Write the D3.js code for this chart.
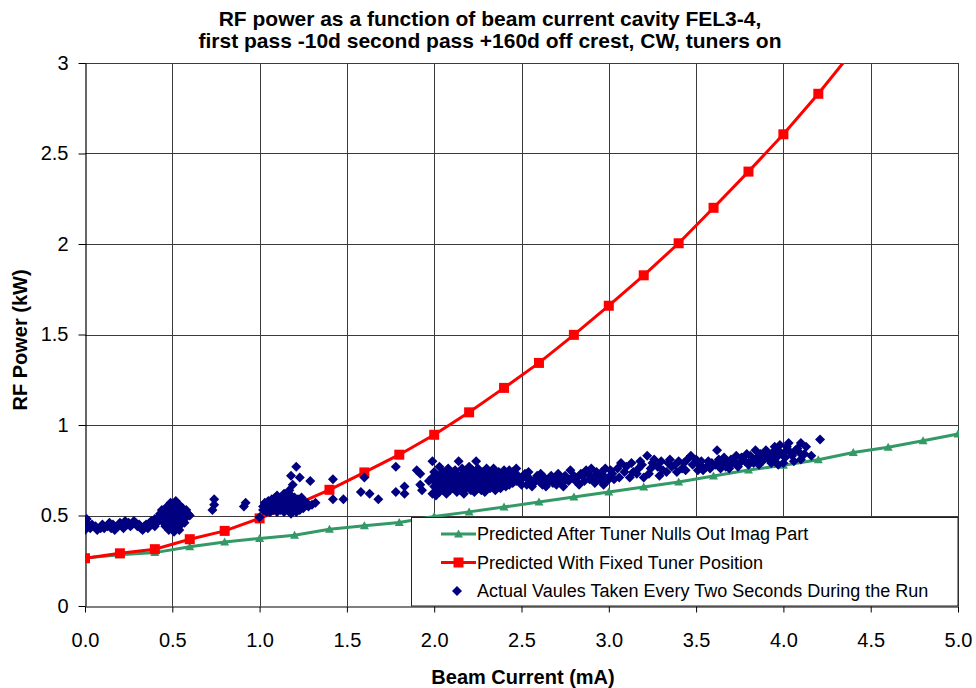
<!DOCTYPE html>
<html>
<head>
<meta charset="utf-8">
<script src="https://cdn.jsdelivr.net/npm/d3@7"></script>
<style>
  body { margin: 0; background: #fff; }
  text { font-family: Arial, "Liberation Sans", sans-serif; }
</style>
</head>
<body>
<div id="root"></div>
<script>
// beam current (mA) for the two predicted curves
const beamCurrent = [0.0, 0.2, 0.4, 0.6, 0.8, 1.0, 1.2, 1.4, 1.6, 1.8, 2.0, 2.2, 2.4,
    2.6, 2.8, 3.0, 3.2, 3.4, 3.6, 3.8, 4.0, 4.2, 4.4, 4.6, 4.8, 5.0];
// Predicted After Tuner Nulls Out Imag Part (kW)
const powerTunerNulled = [0.265, 0.283, 0.295, 0.327, 0.354, 0.373, 0.391, 0.424, 0.443,
    0.461, 0.495, 0.520, 0.547, 0.575, 0.602, 0.630, 0.657, 0.685, 0.718, 0.751, 0.778,
    0.808, 0.848, 0.877, 0.913, 0.950];
// Predicted With Fixed Tuner Position (kW), runs off the top after 4.4 mA
const powerFixedTuner = [0.264, 0.291, 0.314, 0.369, 0.415, 0.484, 0.557, 0.642, 0.738,
    0.836, 0.946, 1.070, 1.205, 1.343, 1.498, 1.659, 1.827, 2.004, 2.200, 2.400, 2.606,
    2.830, 3.070];

// Actual values taken every two seconds: [mA, kW]
const actualValues = [
    [0.00, 0.43], [0.00, 0.45], [0.00, 0.47], [0.00, 0.44], [0.00, 0.42], [0.01, 0.46], [0.01, 0.48],
    [0.02, 0.44], [0.03, 0.43], [0.04, 0.45], [0.06, 0.44], [0.07, 0.42], [0.09, 0.43], [0.10, 0.45],
    [0.11, 0.43], [0.13, 0.44], [0.14, 0.46], [0.15, 0.43], [0.16, 0.45], [0.17, 0.42], [0.19, 0.44],
    [0.20, 0.46], [0.21, 0.45], [0.22, 0.43], [0.23, 0.47], [0.24, 0.45], [0.25, 0.46], [0.26, 0.44],
    [0.27, 0.45], [0.28, 0.47], [0.29, 0.46], [0.30, 0.44], [0.31, 0.45], [0.32, 0.43], [0.33, 0.42],
    [0.34, 0.44], [0.35, 0.45], [0.36, 0.43], [0.37, 0.46], [0.38, 0.47], [0.39, 0.45], [0.40, 0.48],
    [0.41, 0.46], [0.40, 0.44],
    [0.42, 0.49], [0.42, 0.47], [0.43, 0.51], [0.44, 0.48], [0.44, 0.53], [0.45, 0.46], [0.45, 0.50],
    [0.46, 0.44], [0.46, 0.52], [0.47, 0.55], [0.47, 0.48], [0.48, 0.42], [0.48, 0.50], [0.48, 0.54],
    [0.49, 0.46], [0.49, 0.57], [0.50, 0.44], [0.50, 0.49], [0.50, 0.52], [0.51, 0.41], [0.51, 0.55],
    [0.51, 0.47], [0.52, 0.58], [0.52, 0.50], [0.52, 0.43], [0.53, 0.53], [0.53, 0.46], [0.54, 0.56],
    [0.54, 0.49], [0.54, 0.42], [0.55, 0.52], [0.55, 0.45], [0.56, 0.54], [0.56, 0.48], [0.57, 0.51],
    [0.57, 0.46], [0.58, 0.53], [0.58, 0.49], [0.59, 0.51], [0.60, 0.50],
    [0.74, 0.59], [0.74, 0.56], [0.73, 0.53], [0.92, 0.57], [0.91, 0.55], [1.00, 0.49],
    [1.02, 0.53], [1.02, 0.55], [1.03, 0.57], [1.04, 0.52], [1.04, 0.55], [1.05, 0.58], [1.05, 0.54],
    [1.06, 0.56], [1.06, 0.52], [1.07, 0.59], [1.07, 0.55], [1.08, 0.53], [1.08, 0.57], [1.09, 0.60],
    [1.09, 0.55], [1.10, 0.52], [1.10, 0.57], [1.10, 0.61], [1.11, 0.54], [1.11, 0.58], [1.12, 0.56],
    [1.12, 0.60], [1.12, 0.53], [1.13, 0.58], [1.13, 0.55], [1.14, 0.62], [1.14, 0.52], [1.15, 0.57],
    [1.15, 0.54], [1.15, 0.60], [1.16, 0.56], [1.16, 0.59], [1.17, 0.53], [1.17, 0.64], [1.17, 0.57],
    [1.18, 0.55], [1.18, 0.61], [1.18, 0.51], [1.19, 0.58], [1.19, 0.67], [1.20, 0.54], [1.20, 0.60],
    [1.21, 0.57], [1.21, 0.52], [1.22, 0.59], [1.22, 0.55], [1.23, 0.57], [1.23, 0.53], [1.24, 0.60],
    [1.24, 0.56], [1.25, 0.54], [1.25, 0.58], [1.26, 0.56], [1.27, 0.57], [1.28, 0.55], [1.30, 0.56],
    [1.32, 0.57], [1.21, 0.77], [1.18, 0.72], [1.23, 0.71], [1.29, 0.69],
    [1.42, 0.70], [1.42, 0.59], [1.48, 0.59], [1.60, 0.71], [1.58, 0.63], [1.63, 0.62], [1.68, 0.59],
    [1.78, 0.77], [1.78, 0.63], [1.83, 0.66], [1.83, 0.62], [1.90, 0.75], [1.92, 0.73], [1.92, 0.67],
    [1.93, 0.64], [1.97, 0.69], [1.99, 0.80], [1.99, 0.71], [1.99, 0.62],
    [2.00, 0.66], [2.00, 0.70], [2.00, 0.74], [2.01, 0.61], [2.01, 0.68], [2.02, 0.72], [2.02, 0.65],
    [2.03, 0.77], [2.03, 0.69], [2.03, 0.63], [2.04, 0.71], [2.04, 0.67], [2.05, 0.74], [2.05, 0.64],
    [2.05, 0.69], [2.06, 0.70], [2.06, 0.66], [2.07, 0.73], [2.07, 0.62], [2.07, 0.68], [2.08, 0.76],
    [2.08, 0.70], [2.09, 0.66], [2.09, 0.72], [2.09, 0.64], [2.10, 0.69], [2.10, 0.74], [2.11, 0.71],
    [2.11, 0.65], [2.11, 0.67], [2.12, 0.75], [2.12, 0.68], [2.13, 0.63], [2.13, 0.70], [2.13, 0.73],
    [2.14, 0.80], [2.14, 0.66], [2.15, 0.69], [2.15, 0.72], [2.15, 0.64], [2.16, 0.76], [2.16, 0.67],
    [2.17, 0.62], [2.17, 0.70], [2.17, 0.73], [2.18, 0.68], [2.18, 0.65], [2.19, 0.74], [2.19, 0.71],
    [2.19, 0.66], [2.20, 0.77], [2.20, 0.69], [2.21, 0.64], [2.21, 0.72], [2.21, 0.67], [2.22, 0.70],
    [2.22, 0.75], [2.23, 0.66], [2.23, 0.63], [2.23, 0.73], [2.24, 0.80], [2.24, 0.68], [2.25, 0.71],
    [2.25, 0.65], [2.25, 0.76], [2.26, 0.69], [2.26, 0.73], [2.27, 0.64], [2.27, 0.67], [2.27, 0.71],
    [2.28, 0.74], [2.28, 0.70], [2.29, 0.66], [2.29, 0.72], [2.29, 0.63], [2.30, 0.69], [2.30, 0.76],
    [2.31, 0.71], [2.31, 0.67], [2.32, 0.74], [2.32, 0.65], [2.32, 0.70], [2.33, 0.68], [2.33, 0.72],
    [2.34, 0.76], [2.34, 0.66], [2.35, 0.70], [2.35, 0.73], [2.35, 0.64], [2.36, 0.67], [2.36, 0.71],
    [2.37, 0.74], [2.37, 0.69], [2.38, 0.65], [2.38, 0.72], [2.39, 0.70], [2.39, 0.67], [2.40, 0.75],
    [2.40, 0.68], [2.41, 0.71], [2.41, 0.66], [2.42, 0.73], [2.42, 0.69], [2.43, 0.67], [2.43, 0.75],
    [2.44, 0.70], [2.44, 0.72], [2.45, 0.68], [2.45, 0.74], [2.46, 0.71], [2.47, 0.69], [2.47, 0.76],
    [2.48, 0.72], [2.50, 0.70], [2.50, 0.67], [2.52, 0.73], [2.53, 0.67], [2.53, 0.71],
    [2.55, 0.70], [2.57, 0.68], [2.59, 0.72], [2.60, 0.69], [2.62, 0.67], [2.63, 0.71], [2.65, 0.68],
    [2.66, 0.70], [2.68, 0.68], [2.70, 0.67], [2.72, 0.70], [2.73, 0.68], [2.75, 0.72], [2.76, 0.70],
    [2.78, 0.75], [2.80, 0.72], [2.81, 0.69], [2.82, 0.71], [2.84, 0.73], [2.85, 0.72], [2.86, 0.69],
    [2.88, 0.73], [2.90, 0.76], [2.91, 0.71], [2.93, 0.74], [2.94, 0.72], [2.95, 0.70], [2.97, 0.72],
    [2.98, 0.76], [2.99, 0.69], [3.00, 0.71], [3.01, 0.75],
    [2.54, 0.74], [2.56, 0.66], [2.58, 0.70], [2.61, 0.73], [2.64, 0.66], [2.67, 0.72], [2.69, 0.70],
    [2.71, 0.73], [2.74, 0.66], [2.77, 0.69], [2.79, 0.71], [2.83, 0.67], [2.87, 0.75], [2.89, 0.70],
    [2.92, 0.68], [2.96, 0.74], [2.97, 0.67],
    [3.03, 0.70], [3.07, 0.79], [3.12, 0.71], [3.14, 0.74], [3.18, 0.80], [3.20, 0.71], [3.22, 0.83],
    [3.24, 0.76], [3.26, 0.81], [3.29, 0.72], [3.31, 0.75], [3.34, 0.79], [3.36, 0.77], [3.39, 0.74],
    [3.42, 0.76], [3.45, 0.81], [3.47, 0.83], [3.50, 0.81], [3.52, 0.78], [3.54, 0.75], [3.56, 0.77],
    [3.59, 0.79], [3.62, 0.86], [3.65, 0.79], [3.67, 0.77], [3.70, 0.81], [3.70, 0.78], [3.72, 0.80],
    [3.02, 0.73], [3.05, 0.76], [3.06, 0.71], [3.09, 0.74], [3.10, 0.77], [3.13, 0.79], [3.16, 0.73],
    [3.17, 0.76], [3.19, 0.78], [3.23, 0.73], [3.25, 0.79], [3.28, 0.77], [3.30, 0.80], [3.33, 0.74],
    [3.35, 0.81], [3.38, 0.78], [3.40, 0.80], [3.43, 0.79], [3.44, 0.75], [3.48, 0.78], [3.51, 0.75],
    [3.53, 0.80], [3.57, 0.80], [3.58, 0.76], [3.61, 0.78], [3.63, 0.81], [3.64, 0.76], [3.66, 0.82],
    [3.68, 0.79], [3.69, 0.76],
    [3.73, 0.83], [3.74, 0.77], [3.75, 0.79], [3.76, 0.82], [3.78, 0.80], [3.79, 0.84], [3.80, 0.78],
    [3.81, 0.83], [3.82, 0.81], [3.83, 0.79], [3.84, 0.86], [3.85, 0.82], [3.86, 0.78], [3.87, 0.84],
    [3.88, 0.80], [3.89, 0.83], [3.90, 0.86], [3.90, 0.82], [3.91, 0.85], [3.92, 0.81], [3.93, 0.79],
    [3.94, 0.83], [3.94, 0.85], [3.95, 0.88], [3.95, 0.80], [3.96, 0.82], [3.97, 0.86], [3.97, 0.78],
    [3.98, 0.89], [3.99, 0.84], [4.00, 0.79], [4.01, 0.82], [4.02, 0.86], [4.02, 0.88], [4.03, 0.90],
    [4.04, 0.85], [4.05, 0.83], [4.06, 0.80], [4.07, 0.86], [4.08, 0.87], [4.09, 0.85], [4.10, 0.90],
    [4.10, 0.81], [4.12, 0.84], [4.13, 0.88], [4.16, 0.83], [4.21, 0.92]
];

const xTicks = [0, 0.5, 1, 1.5, 2, 2.5, 3, 3.5, 4, 4.5, 5];
const yTicks = [0, 0.5, 1, 1.5, 2, 2.5, 3];

const titleLines = [
    "RF power as a function of beam current cavity FEL3-4,",
    "first pass -10d second pass +160d off crest, CW, tuners on"
];
const seriesNames = [
    "Predicted After Tuner Nulls Out Imag Part",
    "Predicted With Fixed Tuner Position",
    "Actual Vaules Taken Every Two Seconds During the Run"
];

const w = 976;
const h = 688;
const plotLeft = 85, plotRight = 958, plotTop = 63, plotBottom = 606;

const GREEN = "#339966";
const RED = "#ff0000";
const NAVY = "#000080";

const svg = d3.select("#root")
    .append("svg")
    .attr("width", w)
    .attr("height", h);

const x = d3.scaleLinear().domain([0, 5]).range([plotLeft, plotRight]);
const y = d3.scaleLinear().domain([0, 3]).range([plotBottom, plotTop]);

// title
svg.append("g")
    .selectAll("text")
    .data(titleLines)
    .enter()
    .append("text")
    .attr("x", 490)
    .attr("y", (d, i) => 26 + i * 22)
    .attr("text-anchor", "middle")
    .attr("font-size", "21px")
    .attr("font-weight", "bold")
    .text(d => d);

// grid
svg.append("g")
    .selectAll("line")
    .data(xTicks.slice(1))
    .enter()
    .append("line")
    .attr("x1", d => Math.round(x(d)) + 0.5)
    .attr("x2", d => Math.round(x(d)) + 0.5)
    .attr("y1", plotTop)
    .attr("y2", plotBottom)
    .attr("stroke", "#3a3a3a")
    .attr("stroke-width", 1);

svg.append("g")
    .selectAll("line")
    .data(yTicks.slice(1))
    .enter()
    .append("line")
    .attr("x1", plotLeft)
    .attr("x2", plotRight)
    .attr("y1", d => Math.round(y(d)) + 0.5)
    .attr("y2", d => Math.round(y(d)) + 0.5)
    .attr("stroke", "#3a3a3a")
    .attr("stroke-width", 1);

// axes
const xAxis = svg.append("g")
    .attr("transform", `translate(0,${plotBottom + 0.5})`)
    .call(d3.axisBottom(x).tickValues(xTicks).tickFormat(d3.format(".1f"))
        .tickSize(6).tickSizeOuter(0).tickPadding(20));
const yAxis = svg.append("g")
    .attr("transform", `translate(${plotLeft + 0.5},0)`)
    .call(d3.axisLeft(y).tickValues(yTicks).tickFormat(d => String(d))
        .tickSize(7).tickSizeOuter(0).tickPadding(10));

[xAxis, yAxis].forEach(a => {
    a.select(".domain").attr("stroke", "#000").attr("stroke-width", 1.2);
    a.selectAll(".tick line").attr("stroke", "#000");
    a.selectAll(".tick text")
        .attr("fill", "#000")
        .attr("font-size", "20px")
        .attr("font-family", "Arial, 'Liberation Sans', sans-serif");
});

svg.append("text")
    .attr("x", 523)
    .attr("y", 684)
    .attr("text-anchor", "middle")
    .attr("font-size", "20px")
    .attr("font-weight", "bold")
    .text("Beam Current (mA)");

svg.append("text")
    .attr("transform", "translate(27,340) rotate(-90)")
    .attr("text-anchor", "middle")
    .attr("font-size", "20px")
    .attr("font-weight", "bold")
    .text("RF Power (kW)");

// plot contents, clipped to the plot area
svg.append("clipPath")
    .attr("id", "plot-clip")
    .append("rect")
    .attr("x", plotLeft)
    .attr("y", plotTop)
    .attr("width", plotRight - plotLeft + 1)
    .attr("height", plotBottom - plotTop);

const plot = svg.append("g").attr("clip-path", "url(#plot-clip)");

const line = d3.line()
    .x(d => x(d[0]))
    .y(d => y(d[1]));

const triangle = "M0,-4.5L4.5,3.5L-4.5,3.5Z";
const diamond = "M0,-5L5,0L0,5L-5,0Z";

let greenData = powerTunerNulled.map((p, i) => [beamCurrent[i], p]);
let redData = powerFixedTuner.map((p, i) => [beamCurrent[i], p]);

plot.append("path")
    .attr("d", line(greenData))
    .attr("fill", "none")
    .attr("stroke", GREEN)
    .attr("stroke-width", 3);

plot.selectAll(".tri")
    .data(greenData)
    .enter()
    .append("path")
    .attr("class", "tri")
    .attr("d", triangle)
    .attr("transform", d => `translate(${x(d[0])},${y(d[1])})`)
    .attr("fill", GREEN);

plot.append("path")
    .attr("d", line(redData))
    .attr("fill", "none")
    .attr("stroke", RED)
    .attr("stroke-width", 3);

plot.selectAll(".sq")
    .data(redData)
    .enter()
    .append("rect")
    .attr("class", "sq")
    .attr("x", d => x(d[0]) - 5)
    .attr("y", d => y(d[1]) - 5)
    .attr("width", 10)
    .attr("height", 10)
    .attr("fill", RED);

plot.selectAll(".dia")
    .data(actualValues)
    .enter()
    .append("path")
    .attr("class", "dia")
    .attr("d", diamond)
    .attr("transform", d => `translate(${x(d[0])},${y(d[1])})`)
    .attr("fill", NAVY);

// legend
const legend = svg.append("g").attr("id", "legend");
legend.append("rect")
    .attr("x", 411.5)
    .attr("y", 517.5)
    .attr("width", plotRight - 411.5)
    .attr("height", plotBottom - 517.5)
    .attr("fill", "#fff")
    .attr("stroke", "#222")
    .attr("stroke-width", 1);

const rows = legend.selectAll("g.row")
    .data(seriesNames)
    .enter()
    .append("g")
    .attr("class", "row")
    .attr("transform", (d, i) => `translate(0,${534 + i * 28.5})`);

rows.append("text")
    .attr("x", 477)
    .attr("y", 0)
    .attr("dy", "0.35em")
    .attr("font-size", "18px")
    .text(d => d);

// legend keys
rows.filter((d, i) => i < 2)
    .append("line")
    .attr("x1", 441)
    .attr("x2", 476)
    .attr("y1", 0)
    .attr("y2", 0)
    .attr("stroke-width", 3)
    .attr("stroke", (d, i) => i == 0 ? GREEN : RED);

rows.filter((d, i) => i == 0)
    .append("path")
    .attr("d", triangle)
    .attr("transform", "translate(458.5,0)")
    .attr("fill", GREEN);

rows.filter((d, i) => i == 1)
    .append("rect")
    .attr("x", 453.5)
    .attr("y", -5)
    .attr("width", 10)
    .attr("height", 10)
    .attr("fill", RED);

rows.filter((d, i) => i == 2)
    .append("path")
    .attr("d", diamond)
    .attr("transform", "translate(457,0)")
    .attr("fill", NAVY);
</script>
</body>
</html>
